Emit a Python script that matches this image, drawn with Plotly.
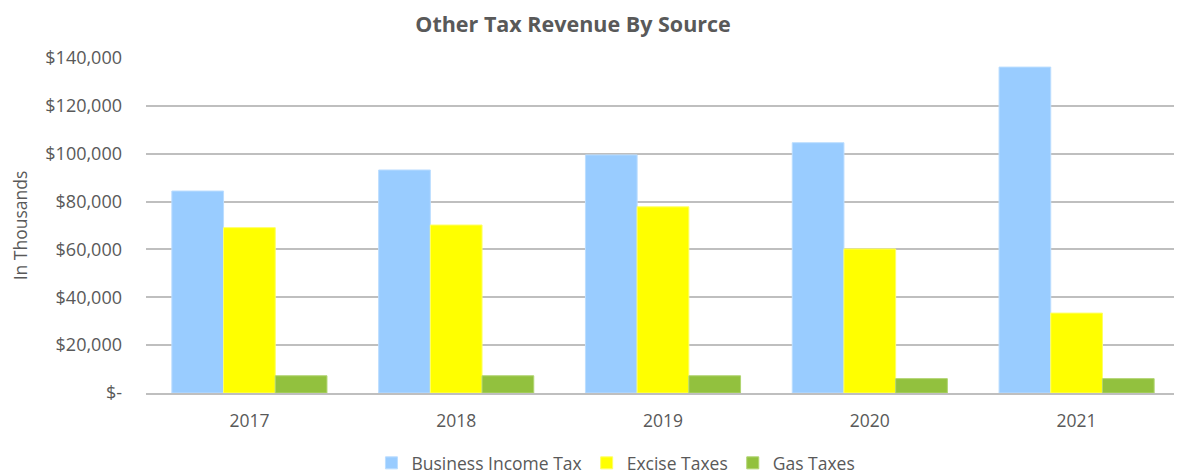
import plotly.graph_objects as go

years = ["2017", "2018", "2019", "2020", "2021"]
business_income_tax = [84400, 93200, 99500, 104600, 136200]
excise_taxes = [69100, 70200, 77800, 60200, 33400]
gas_taxes = [7200, 7200, 7200, 6000, 6000]

y_tick_vals = [0, 20000, 40000, 60000, 80000, 100000, 120000, 140000]
y_tick_text = ["$-", "$20,000", "$40,000", "$60,000", "$80,000", "$100,000", "$120,000", "$140,000"]

font_family = "'Open Sans', sans-serif"
text_color = "#595959"

fig = go.Figure()
fig.add_trace(go.Bar(name="Business Income Tax", x=years, y=business_income_tax,
                     marker=dict(color="#99CCFF", line=dict(color="#BBDDFF", width=1))))
fig.add_trace(go.Bar(name="Excise Taxes", x=years, y=excise_taxes,
                     marker=dict(color="#FFFF00", line=dict(color="#FFFF66", width=1))))
fig.add_trace(go.Bar(name="Gas Taxes", x=years, y=gas_taxes,
                     marker=dict(color="#92C13E", line=dict(color="#B0D470", width=1))))

fig.update_layout(
    width=1174, height=468,
    margin=dict(l=138, r=2, t=50, b=83),
    paper_bgcolor="white", plot_bgcolor="white",
    barmode="group", bargap=0.25, bargroupgap=0,
    font=dict(family=font_family, color=text_color, size=17),
    title=dict(text="<b>Other Tax Revenue By Source</b>", x=0.4813, xanchor="center",
               y=0.9645, yanchor="middle", font=dict(size=21.5, color=text_color, family=font_family)),
    legend=dict(orientation="h", xref="paper", x=0.4545, xanchor="center",
                yref="container", y=0.0278, yanchor="middle",
                font=dict(size=17.5, color=text_color), itemwidth=30, traceorder="normal"),
    xaxis=dict(showgrid=False, showline=True, linecolor="#BFBFBF", linewidth=1.5,
               ticks="", ticklabelstandoff=11, tickfont=dict(size=17.5, color=text_color)),
    yaxis=dict(range=[0, 140000], tickvals=y_tick_vals, ticktext=y_tick_text,
               showgrid=True, gridcolor="#BFBFBF", gridwidth=1.5, zeroline=False,
               ticks="", ticklabelstandoff=23, tickfont=dict(size=18, color=text_color),
               title=dict(text="In Thousands", standoff=14, font=dict(size=17.5, color=text_color))),
)

fig.write_html("out.html")
